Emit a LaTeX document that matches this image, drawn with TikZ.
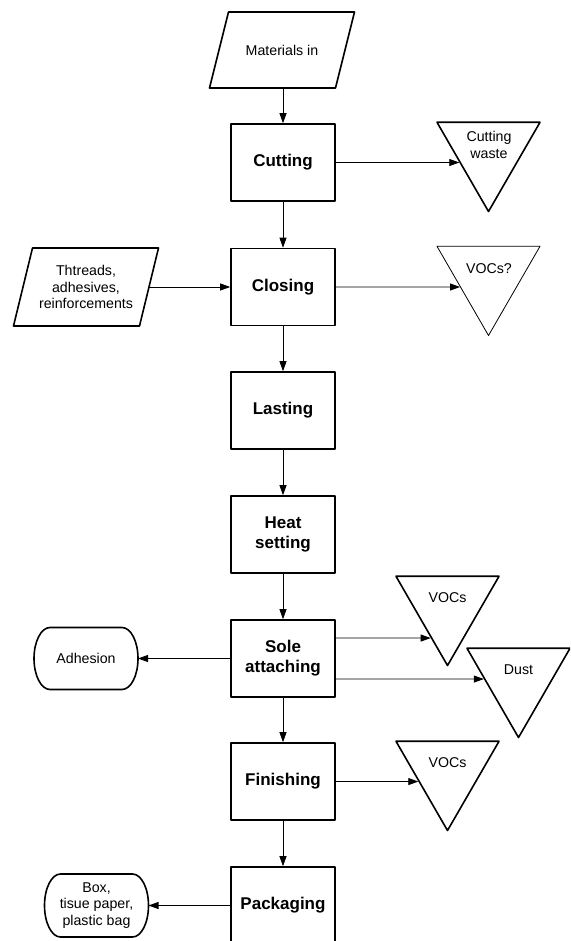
\documentclass[tikz,border=0pt]{standalone}
\usepackage{fontspec}
\setmainfont{Liberation Sans}
\usetikzlibrary{arrows.meta,shapes.geometric}

\tikzset{
  procbox/.style={draw,line width=1.6pt,minimum width=104pt,minimum height=77pt,inner sep=0pt,
    align=center,font=\fontsize{17}{20}\selectfont\bfseries},
  inbox/.style={minimum width=145pt,minimum height=76pt,inner sep=0pt,outer sep=0pt,
    align=center,font=\fontsize{14.2}{16.5}\selectfont},
  outtri/.style={regular polygon,regular polygon sides=3,shape border rotate=180,draw,
    line width=1.6pt,minimum size=119pt,inner sep=0pt},
  outtext/.style={inner sep=0pt,align=center,font=\fontsize{14.2}{16.5}\selectfont},
  termbox/.style={minimum width=104pt,minimum height=62pt,inner sep=0pt,outer sep=0pt,
    align=center,font=\fontsize{14.2}{16.5}\selectfont},
  flow/.style={line width=0.8pt,->}
}
\newcommand{\slantframe}[1]{\draw[line width=1.6pt] (#1.south west) -- ([xshift=-19pt]#1.south east)
  -- (#1.north east) -- ([xshift=19pt]#1.north west) -- cycle;}
\newcommand{\termframe}[2]{\draw[line width=1.6pt] ([xshift=16pt]#1.north west) -- ([xshift=-16pt]#1.north east)
  arc[start angle=90,end angle=-90,x radius=16pt,y radius=#2] -- ([xshift=16pt]#1.south west)
  arc[start angle=270,end angle=90,x radius=16pt,y radius=#2] -- cycle;}

\begin{document}
\begin{tikzpicture}[line cap=round,line join=round,>={Triangle[length=10pt,width=7pt]},x=1pt,y=-1pt]
		\useasboundingbox (0,0) rectangle (570,941);
		\clip (0,0) rectangle (570,941);
		% process steps
		\node[procbox] (cut) at (283,162.5) {Cutting};
		\node[procbox] (clo) at (283,287) {Closing};
		\node[procbox] (las) at (283,410.5) {Lasting};
		\node[procbox] (hea) at (283,534.5) {Heat\\setting};
		\node[procbox] (sol) at (283,658.5) {Sole\\attaching};
		\node[procbox] (fin) at (283,781.5) {Finishing};
		\node[procbox] (pac) at (283,905.5) {Packaging};
		% inputs
		\node[inbox] (mat) at (282,50) {Materials in};
		\slantframe{mat}
		\node[inbox,minimum height=78pt] (thr) at (86,287) {Thtreads,\\adhesives,\\reinforcements};
		\slantframe{thr}
		\node[termbox] (adh) at (86,658.5) {Adhesion};
		\termframe{adh}{31pt}
		\node[termbox,minimum height=63pt] (pak) at (96.5,905.5) {Box,\\tisue paper,\\plastic bag};
		\termframe{pak}{31.5pt}
		% outputs
		\node[outtri] (cw) at (488.5,152) {};
		\node[outtext] (cwt) at (489,145) {Cutting\\waste};
		\node[outtri,line width=0.8pt] (vq) at (488.5,276) {};
		\node[outtext] (vqt) at (489,269) {VOCs?};
		\node[outtri] (sv) at (447.5,606) {};
		\node[outtext] (svt) at (447.5,598) {VOCs};
		\node[outtri] (du) at (518.5,678) {};
		\node[outtext] (dut) at (518.5,670) {Dust};
		\node[outtri] (fv) at (447.5,771) {};
		\node[outtext] (fvt) at (447.5,763) {VOCs};
		% flow
		\draw[flow] (mat.south -| cut) -- (cut);
		\foreach \a/\b in {cut/clo,clo/las,las/hea,hea/sol,sol/fin,fin/pac}
			\draw[flow] (\a) -- (\b);
		\draw[flow] ([xshift=-9.5pt]thr.east) -- (clo);
		\draw[flow] (sol) -- (adh);
		\draw[flow] (pac) -- (pak);
		\draw[flow] (cut.east) -- (intersection of cut.center--cut.east and cw.corner 3--cw.corner 1);
		\draw[flow] (clo.east) -- (intersection of clo.center--clo.east and vq.corner 3--vq.corner 1);
		\draw[flow] (fin.east) -- (intersection of fin.center--fin.east and fv.corner 3--fv.corner 1);
		\coordinate (s1e) at ([yshift=20.5pt]sol.east);
		\coordinate (s1w) at ([yshift=20.5pt]sol.west);
		\coordinate (s2e) at ([yshift=-20.5pt]sol.east);
		\coordinate (s2w) at ([yshift=-20.5pt]sol.west);
		\draw[flow] (s1e) -- (intersection of s1w--s1e and sv.corner 3--sv.corner 1);
		\draw[flow] (s2e) -- (intersection of s2w--s2e and du.corner 3--du.corner 1);
	\end{tikzpicture}
\end{document}
